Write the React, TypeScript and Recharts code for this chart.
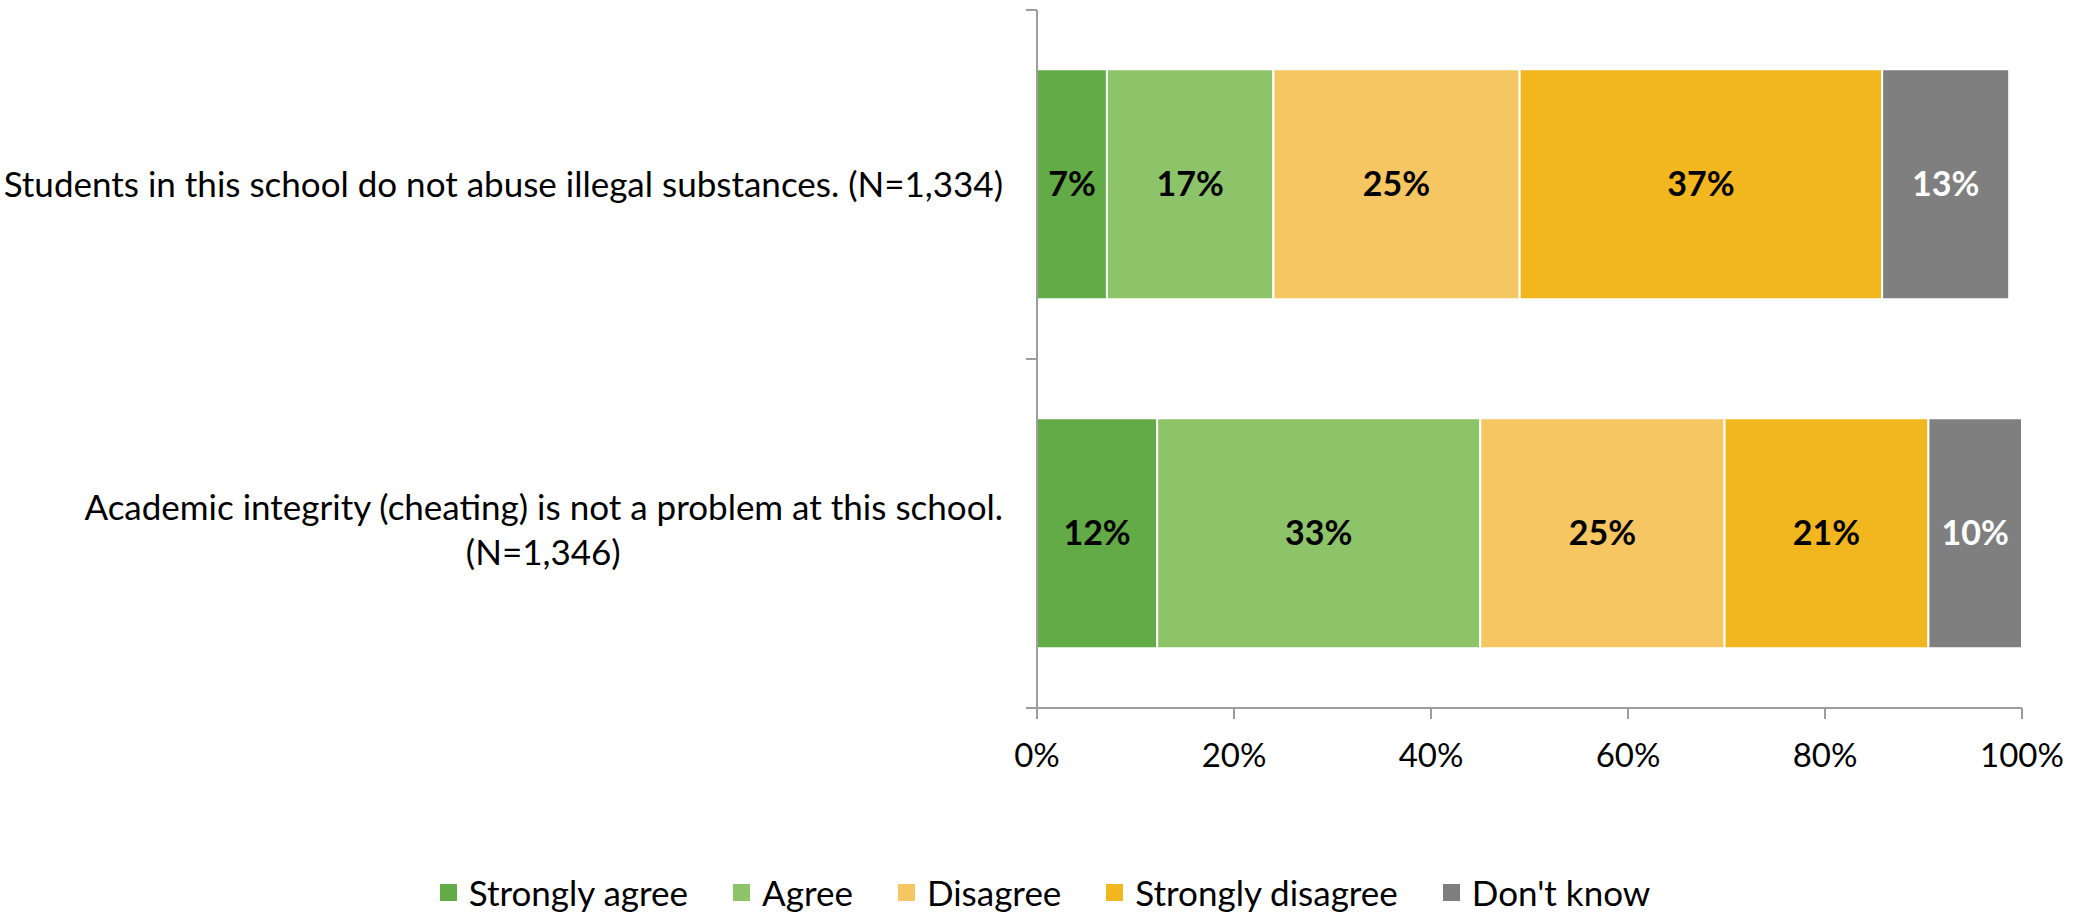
import { Bar, BarChart, LabelList, Legend, XAxis, YAxis } from 'recharts'

// categories (one entry per line of the axis label)
const categoryLines = [
  ['Students in this school do not abuse illegal substances. (N=1,334)'],
  ['Academic integrity (cheating) is not a problem at this school.', '(N=1,346)'],
]

// series values, in percent
const stronglyAgree = [7.1, 12.2]
const agree = [16.9, 32.8]
const disagree = [25.0, 24.8]
const stronglyDisagree = [36.8, 20.7]
const dontKnow = [12.9, 9.5]

const xTicks = [0, 20, 40, 60, 80, 100]

const series = [
  { key: 'sa', name: 'Strongly agree', color: '#62AB46', label: '#000' },
  { key: 'a', name: 'Agree', color: '#8DC46A', label: '#000' },
  { key: 'd', name: 'Disagree', color: '#F6C663', label: '#000' },
  { key: 'sd', name: 'Strongly disagree', color: '#F2B61E', label: '#000' },
  { key: 'dk', name: "Don't know", color: '#7F7F7F', label: '#fff' },
]

const data = categoryLines.map((lines, i) => ({
  name: lines.join(' '),
  sa: stronglyAgree[i],
  a: agree[i],
  d: disagree[i],
  sd: stronglyDisagree[i],
  dk: dontKnow[i],
}))

const FONT = 'Lato, sans-serif'
const FS = 35
const TICK_FS = 33
const AXIS = '#9d9d9d'
const W = 2081
const H = 913
const Y_AXIS_W = 1037
const TICK = 11

let ctx: CanvasRenderingContext2D | null = null
const measure = (s: string) => {
  if (!ctx) ctx = document.createElement('canvas').getContext('2d')
  if (!ctx) return s.length * FS * 0.45
  ctx.font = `${FS}px ${FONT}`
  return ctx.measureText(s).width
}

// category label, plus tick marks on the band edges
const CategoryTick = (props: any) => {
  const { y, payload, index, visibleTicksCount } = props
  const lines = categoryLines[index] || [String(payload.value)]
  const half = payload.offset ?? 174.5
  const axisX = Y_AXIS_W
  const textRight = axisX - 34
  const lh = 45
  const firstW = measure(lines[0])
  const top = y - ((lines.length - 1) * lh) / 2 - (lines.length > 1 ? 3 : 0)
  return (
    <g>
      <line x1={axisX - TICK} x2={axisX} y1={y - half} y2={y - half} stroke={AXIS} strokeWidth={2} />
      {index === visibleTicksCount - 1 && (
        <line x1={axisX - TICK} x2={axisX} y1={y + half} y2={y + half} stroke={AXIS} strokeWidth={2} />
      )}
      {lines.map((l: string, i: number) => (
        <text
          key={i}
          x={i === 0 ? textRight : textRight - firstW / 2}
          y={top + i * lh}
          dy="0.35em"
          textAnchor={i === 0 ? 'end' : 'middle'}
          fontFamily={FONT}
          fontSize={FS}
          fill="#000"
        >
          {l}
        </text>
      ))}
    </g>
  )
}

const LegendContent = () => (
  <div
    style={{
      height: 42,
      display: 'flex',
      alignItems: 'center',
      justifyContent: 'center',
      gap: 45,
      paddingLeft: 68,
      boxSizing: 'border-box',
      fontFamily: FONT,
      fontSize: FS,
      color: '#000',
    }}
  >
    {series.map((s) => (
      <div key={s.key} style={{ display: 'flex', alignItems: 'center', gap: 12 }}>
        <div style={{ width: 17, height: 17, background: s.color }} />
        <span>{s.name}</span>
      </div>
    ))}
  </div>
)

export default function App() {
  return (
    <div style={{ position: 'absolute', left: 0, top: 0, width: W, height: H, background: '#fff' }}>
      <BarChart
        width={W}
        height={H}
        data={data}
        layout="vertical"
        margin={{ top: 10, right: 59, bottom: 0, left: 0 }}
        barCategoryGap="17%"
      >
        <XAxis
          type="number"
          domain={[0, 100]}
          ticks={xTicks}
          allowDataOverflow
          tickFormatter={(v: number) => `${v}%`}
          height={163}
          tickSize={TICK}
          tickMargin={25}
          axisLine={{ stroke: AXIS, strokeWidth: 2 }}
          tickLine={{ stroke: AXIS, strokeWidth: 2 }}
          tick={{ fill: '#000', fontSize: TICK_FS, fontFamily: FONT }}
        />
        <YAxis
          type="category"
          dataKey="name"
          width={Y_AXIS_W}
          tickLine={false}
          axisLine={{ stroke: AXIS, strokeWidth: 2 }}
          tick={<CategoryTick />}
        />
        <Legend verticalAlign="bottom" content={<LegendContent />} />
        {series.map((s) => (
          <Bar
            key={s.key}
            dataKey={s.key}
            name={s.name}
            stackId="a"
            fill={s.color}
            stroke="#fff"
            strokeWidth={2}
            isAnimationActive={false}
          >
            <LabelList
              dataKey={s.key}
              position="center"
              formatter={(v: any) => `${Math.round(Number(v))}%`}
              fill={s.label}
              fontSize={34}
              fontWeight="bold"
              fontFamily={FONT}
            />
          </Bar>
        ))}
      </BarChart>
    </div>
  )
}
